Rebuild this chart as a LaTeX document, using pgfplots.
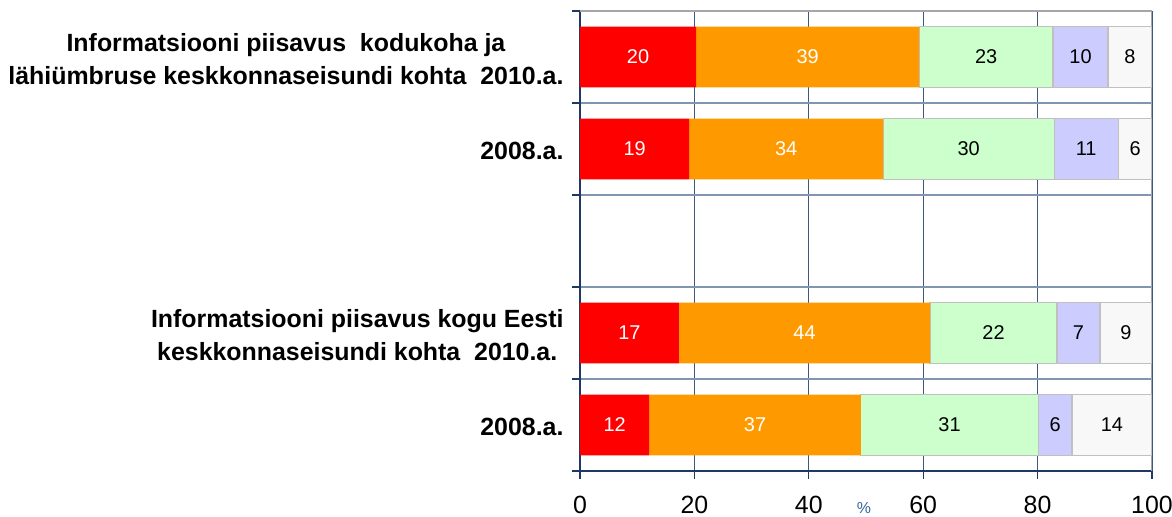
\documentclass[border=0pt]{standalone}
\usepackage{pgfplots}
\pgfplotsset{compat=1.18}
\usepackage{fontspec}
\setmainfont{Liberation Sans}
\definecolor{cRed}{RGB}{255,0,0}
\definecolor{cOrange}{RGB}{255,153,0}
\definecolor{cGreen}{RGB}{204,255,204}
\definecolor{cBlue}{RGB}{204,204,255}
\definecolor{cGray}{RGB}{248,248,248}
\definecolor{cEdge}{RGB}{192,192,192}
\definecolor{cBorder}{RGB}{166,166,166}
\definecolor{navy}{RGB}{31,56,100}
\definecolor{gridV}{RGB}{60,90,128}
\definecolor{gridH}{RGB}{128,150,176}
\definecolor{pct}{RGB}{51,102,153}
\pgfplotsset{
  frame/.style={scale only axis, width=572bp, height=460bp,
    xmin=0, xmax=100, ymin=-0.5, ymax=4.5},
  lbl/.style={draw=none, mark=none, nodes near coords, point meta=explicit symbolic,
    every node near coord/.style={anchor=center, inner sep=0pt, font=\fontsize{20}{22}\selectfont, text=#1}},
}
\begin{document}
\begin{tikzpicture}
\useasboundingbox (-580bp,-46bp) rectangle (592bp,471bp);
\begin{axis}[
  frame,
  xbar stacked, bar width=0.66,
  axis x line*=bottom, axis y line*=left,
  axis line style={navy, line width=1.6bp},
  xtick={0,20,...,100},
  ytick={-0.5,0.5,1.5,2.5,3.5,4.5},
  yticklabels={,,,,,},
  tick align=outside, major tick length=8bp,
  tick style={navy, line width=1.2bp},
  xmajorgrids, ymajorgrids,
  x grid style={gridV, line width=1.2bp},
  y grid style={gridH, line width=1.6bp},
  xticklabel style={font=\fontsize{25}{28}\selectfont, yshift=-14bp},
  /pgf/number format/assume math mode=true,
  extra y ticks={4,3,1,0},
  extra y tick labels={{Informatsiooni piisavus\ \ kodukoha ja\\lähiümbruse keskkonnaseisundi kohta\ \ 2010.a.},{2008.a.},{Informatsiooni piisavus kogu Eesti\\keskkonnaseisundi kohta\ \ 2010.a.},{2008.a.}},
  extra y tick style={grid=none, major tick length=0pt,
    yticklabel style={align=center, xshift=-13bp, yshift=-2bp, font=\bfseries\fontsize{25}{33}\selectfont}},
]
\addplot[fill=cRed, draw=none]
  coordinates {(20.3,4) (19.1,3) (17.3,1) (12.1,0)};
\addplot[fill=cOrange, draw=none]
  coordinates {(39.0,4) (33.9,3) (43.9,1) (37.0,0)};
\addplot[fill=cGreen, draw=cEdge, line width=1.2bp]
  coordinates {(23.4,4) (29.9,3) (22.2,1) (31.0,0)};
\addplot[fill=cBlue, draw=cEdge, line width=1.2bp]
  coordinates {(9.6,4) (11.2,3) (7.5,1) (5.9,0)};
\addplot[fill=cGray, draw=cEdge, line width=1.2bp]
  coordinates {(7.7,4) (5.9,3) (9.1,1) (14.0,0)};
\draw[cBorder, line width=1.6bp] (rel axis cs:0,1) -- (rel axis cs:1,1) -- (rel axis cs:1,0);
\end{axis}
\begin{axis}[frame, hide axis]
% segment midpoints, labels = rounded values
\addplot[lbl=white] coordinates {(10.15,4) [20] (9.55,3) [19] (8.65,1) [17] (6.05,0) [12]};
\addplot[lbl=white] coordinates {(39.8,4) [39] (36.05,3) [34] (39.25,1) [44] (30.6,0) [37]};
\addplot[lbl=black] coordinates {(71.0,4) [23] (67.95,3) [30] (72.3,1) [22] (64.6,0) [31]};
\addplot[lbl=black] coordinates {(87.5,4) [10] (88.5,3) [11] (87.15,1) [7] (83.05,0) [6]};
\addplot[lbl=black] coordinates {(96.15,4) [8] (97.05,3) [6] (95.45,1) [9] (93.0,0) [14]};
\end{axis}
\node[pct, font=\fontsize{16}{16}\selectfont, anchor=base] at (284bp,-42bp) {\%};
\end{tikzpicture}
\end{document}
